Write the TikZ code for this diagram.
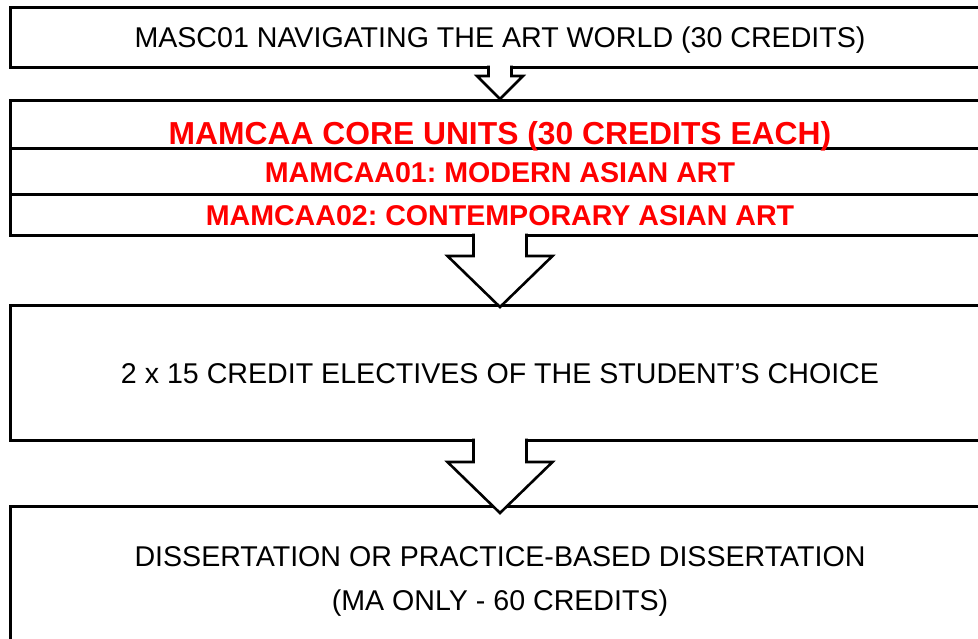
\documentclass[tikz,border=0pt]{standalone}
\usepackage{fontspec}
\setmainfont{Liberation Sans}
\frenchspacing
\usetikzlibrary{calc}
\tikzset{
  box/.style={draw=black, line width=3pt, fill=white, minimum width=980pt, inner sep=0pt, outer sep=0pt},
  plain/.style={anchor=base, inner sep=0pt, font=\fontsize{28.6}{32}\selectfont},
  redbig/.style={anchor=base, inner sep=0pt, text=red, font=\fontsize{31.8}{36}\selectfont\bfseries},
  redtxt/.style={anchor=base, inner sep=0pt, text=red, font=\fontsize{28.6}{32}\selectfont\bfseries},
  barrow/.style={draw=black, line width=2.6pt, line join=miter},
}
\begin{document}
\begin{tikzpicture}[x=1pt,y=-1pt]
\useasboundingbox (0,0) rectangle (978,638);
\clip (0,0) rectangle (978,638);
% boxes
\node[box, minimum height=60pt] (b1) at (500,37) {};
\node[box, minimum height=48pt] (r1) at (500,124) {};
\node[box, minimum height=46pt] (r2) at (500,171) {};
\node[box, minimum height=41pt] (r3) at (500,214.5) {};
\node[box, minimum height=135pt] (b3) at (500,372.5) {};
\node[box, minimum height=194pt] (b4) at (500,603) {};
% texts
\node[plain] (t1) at (500,47) {MASC01 NAVIGATING THE ART WORLD (30 CREDITS)};
\node[redbig] (t2) at (500,144) {MAMCAA CORE UNITS (30 CREDITS EACH)};
\node[redtxt] (t3) at (500,182) {MAMCAA01: MODERN ASIAN ART};
\node[redtxt] (t4) at (500,225.5) {MAMCAA02: CONTEMPORARY ASIAN ART};
\node[plain] (t5) at (500,383) {2 x 15 CREDIT ELECTIVES OF THE STUDENT’S CHOICE};
\node[plain] (t6) at (500,566) {DISSERTATION OR PRACTICE-BASED DISSERTATION};
\node[plain] (t7) at (500,610) {(MA ONLY - 60 CREDITS)};
% block arrows
\fill[white] ($(b1.south)+(-11.5,-1)$) -- ($(b1.south)+(-11.5,9)$) -- ($(b1.south)+(-23,9)$)
  -- ($(r1.north)+(0,-1)$) -- ($(b1.south)+(23,9)$) -- ($(b1.south)+(11.5,9)$) -- ($(b1.south)+(11.5,-1)$) -- cycle;
\draw[barrow] ($(b1.south)+(-11.5,-1.5)$) -- ($(b1.south)+(-11.5,9)$) -- ($(b1.south)+(-23,9)$)
  -- ($(r1.north)+(0,-1)$) -- ($(b1.south)+(23,9)$) -- ($(b1.south)+(11.5,9)$) -- ($(b1.south)+(11.5,-1.5)$);
\fill[white] ($(r3.south)+(-26.5,-1)$) -- ($(r3.south)+(-26.5,21)$) -- ($(r3.south)+(-52.5,21)$)
  -- ($(b3.north)+(0,2)$) -- ($(r3.south)+(52.5,21)$) -- ($(r3.south)+(26.5,21)$) -- ($(r3.south)+(26.5,-1)$) -- cycle;
\draw[barrow] ($(r3.south)+(-26.5,-1.5)$) -- ($(r3.south)+(-26.5,21)$) -- ($(r3.south)+(-52.5,21)$)
  -- ($(b3.north)+(0,2)$) -- ($(r3.south)+(52.5,21)$) -- ($(r3.south)+(26.5,21)$) -- ($(r3.south)+(26.5,-1.5)$);
\fill[white] ($(b3.south)+(-26.5,-1)$) -- ($(b3.south)+(-26.5,22)$) -- ($(b3.south)+(-52.5,22)$)
  -- ($(b4.north)+(0,7)$) -- ($(b3.south)+(52.5,22)$) -- ($(b3.south)+(26.5,22)$) -- ($(b3.south)+(26.5,-1)$) -- cycle;
\draw[barrow] ($(b3.south)+(-26.5,-1.5)$) -- ($(b3.south)+(-26.5,22)$) -- ($(b3.south)+(-52.5,22)$)
  -- ($(b4.north)+(0,7)$) -- ($(b3.south)+(52.5,22)$) -- ($(b3.south)+(26.5,22)$) -- ($(b3.south)+(26.5,-1.5)$);
\end{tikzpicture}
\end{document}
